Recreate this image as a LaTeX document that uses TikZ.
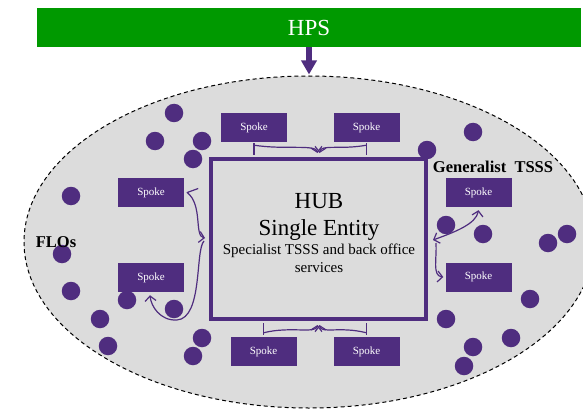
\documentclass[tikz,border=0pt]{standalone}
\usepackage{fontspec}
\setmainfont{Liberation Serif}
\usetikzlibrary{arrows.meta,shapes.geometric,calc}
\definecolor{purp}{RGB}{79,45,127}
\definecolor{hpsgreen}{RGB}{0,153,0}
\definecolor{areagray}{RGB}{220,220,220}
\tikzset{
  spokebox/.style={fill=purp, text=white, minimum width=66pt, minimum height=29pt, inner sep=0pt, font=\fontsize{11}{13}\selectfont},
  dot/.style={circle, fill=purp, minimum size=18.5pt, inner sep=0pt},
  conn/.style={draw=purp, line width=1.2pt, line join=round},
  barb/.tip={Straight Barb[length=5pt,width=11pt,line width=1.2pt]},
  lbl/.style={font=\fontsize{16.5}{19}\selectfont\bfseries, anchor=base, inner sep=0pt},
}
\begin{document}
\begin{tikzpicture}[x=1pt,y=-1pt]
\clip (0,0) rectangle (583,409);
\fill[white] (0,0) rectangle (583,409);
% green bar
\node[fill=hpsgreen, text=white, minimum width=544pt, minimum height=39pt, inner sep=0pt,
      font=\fontsize{23}{27}\selectfont] (hps) at (309,27.5) {HPS};
% area ellipse
\node[ellipse, draw=black, fill=areagray, line width=1pt, dash pattern=on 4pt off 3pt,
      minimum width=570pt, minimum height=332pt, inner sep=0pt] (area) at (309,242) {};
\draw[purp, line width=6pt, -{Triangle[width=15pt,length=14pt]}] (hps.south) -- ($(area.north)+(0,-1)$);
% hub
\node[draw=purp, line width=4pt, minimum width=215pt, minimum height=160pt, inner sep=0pt] (hub) at (318.5,239) {};
\node[font=\fontsize{23}{27}\selectfont, anchor=base, inner sep=0pt] (hubt) at (319,208) {HUB};
\node[font=\fontsize{23}{27}\selectfont, anchor=base, inner sep=0pt] (single) at (319,235) {Single Entity};
\node[font=\fontsize{15}{17}\selectfont, anchor=base, inner sep=0pt] (spec1) at (319,254) {Specialist TSSS and back office};
\node[font=\fontsize{15}{17}\selectfont, anchor=base, inner sep=0pt] (spec2) at (319,272) {services};
% spokes
\node[spokebox] (s1) at (254,127.5) {Spoke};
\node[spokebox] (s2) at (366.5,127.5) {Spoke};
\node[spokebox] (s3) at (151,192.5) {Spoke};
\node[spokebox] (s4) at (151,277.5) {Spoke};
\node[spokebox] (s5) at (263.5,351.5) {Spoke};
\node[spokebox] (s6) at (366.5,351.5) {Spoke};
\node[spokebox] (s7) at (478.5,192.5) {Spoke};
\node[spokebox] (s8) at (478.5,277) {Spoke};
% connectors top
\draw[conn] ($(s1.south)+(0,1)$) -- ++(0,12);
\draw[conn,-{barb}] ($(s1.south)+(0,3)$) .. controls (285,150) and (316,144) .. ($(hub.north)+(-1,-4)$);
\draw[conn] ($(s2.south)+(0,1)$) -- ++(0,12);
\draw[conn,-{barb}] ($(s2.south)+(0,3)$) .. controls (340,150) and (321,144) .. ($(hub.north)+(1,-4)$);
% connectors bottom
\draw[conn] ($(s5.north)+(0,-2)$) -- ++(0,-12);
\draw[conn,-{barb}] ($(s5.north)+(0,-4)$) .. controls (290,326) and (316,334) .. ($(hub.south)+(-1,4)$);
\draw[conn] ($(s6.north)+(0,-2)$) -- ++(0,-12);
\draw[conn,-{barb}] ($(s6.north)+(0,-4)$) .. controls (340,326) and (321,334) .. ($(hub.south)+(1,4)$);
% connectors left
\draw[conn,-{barb}] ($(s3.east)+(14,-4)$) -- ($(s3.east)+(3,0)$)
   .. controls (203,205) and (194,236) .. ($(hub.west)+(-4,-1)$);
\draw[conn,-{barb}] ($(hub.west)+(-5,2)$) .. controls (195,250) and (203,318) .. (177,320)
   .. controls (160,321) and (151,306) .. ($(s4.south)+(-1,3)$);
% connectors right
\draw[conn,{barb}-{barb}] ($(hub.east)+(5,1)$) .. controls (455,232) and (476,224) .. ($(s7.south)+(0,3)$);
\draw[conn,-{barb}] ($(hub.east)+(8,4)$) .. controls (437,258) and (432,276) .. ($(s8.west)+(-2,0)$);
% dots
\foreach \n/\x/\y in {d1/174/113, d2/155/141, d3/202/141, d4/193/159, d5/71/196, d6/62/254,
  d7/71/291, d8/127/300, d9/174/309, d10/100/319, d11/108/346, d12/202/338, d13/193/356,
  d14/473/132, d15/427/150, d16/446/225, d17/483/234, d18/548/243, d19/567/234, d20/530/299,
  d21/446/319, d22/511/338, d23/473/347, d24/464/366}
  \node[dot] (\n) at (\x,\y) {};
% labels
\node[lbl] (gen) at (493,172) {Generalist~~TSSS};
\node[lbl] (flos) at (56,247) {FLOs};
\end{tikzpicture}
\end{document}
